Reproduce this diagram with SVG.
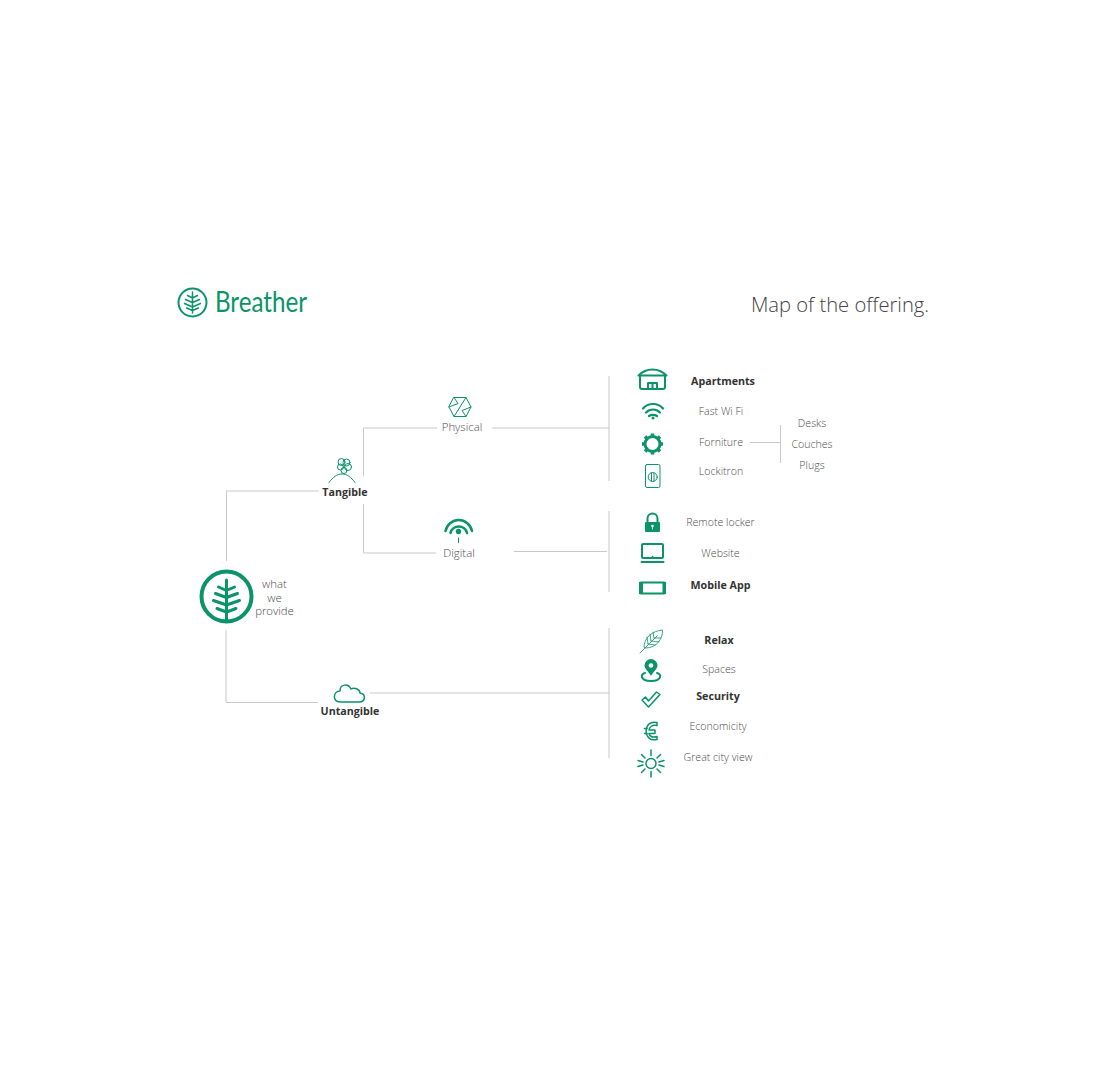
<svg xmlns="http://www.w3.org/2000/svg" width="1106" height="1092" viewBox="0 0 1106 1092">
<style>
text{font-family:"Open Sans","Noto Sans","Liberation Sans",sans-serif;text-anchor:middle;font-size:10.6px;font-weight:300;fill:#4d4d4d}
.b{font-size:10.7px;font-weight:700;fill:#333}
.m{font-size:11.4px}
.c{fill:none;stroke:#c9c9c9;stroke-width:1}
.i{fill:none;stroke:#0a9468;stroke-width:2;stroke-linecap:round;stroke-linejoin:round}
.t{stroke-width:1}
.f{fill:#0a9468;stroke:none}
</style>
<rect width="1106" height="1092" fill="#fff"/>
<g id="connectors">
<path class="c" d="M319 491H226.500V561M226 630V702.500H318M370 693H609M363.500 476V428H437M492 428H609M363.500 504V553H436M514 551.500H607M609 376V481M609 511V592M609 628V758M750 442.500H780M780.500 425V463"/>
</g>
<g id="logo">
<g class="i"><circle cx="192.500" cy="302.500" r="14"/><path style="stroke-width:1.500" d="M192.500 292V313M187.500 295.500l5 2.500 5-2.500M185.500 299.500l7 3 7-3M184.500 303.500l8 3.500 8-3.500M186.500 308l6 2.500 6-2.500"/></g>
<text x="261" y="312" textLength="92" lengthAdjust="spacingAndGlyphs" style="font-size:28px;fill:#0a9468;font-weight:400;font-family:'Lato','Open Sans',sans-serif">Breather</text>
</g>
<g id="title"><text x="840" y="312" style="font-size:20.200px;fill:#444">Map of the offering.</text></g>
<g id="root">
<g class="i" style="stroke-width:4"><circle cx="226.500" cy="596.500" r="25"/><path style="stroke-width:3" d="M226.500 580V621M218.500 587l8 3.500 8-3.500M215.500 593.500l11 4 11-4M213.500 600.500l13 4.500 13-4.500M217 608.500l9.500 3.500 9.500-3.500"/></g>
<text x="274.500" y="587.500" class="m">what</text><text x="274.500" y="601.500" class="m">we</text><text x="274.500" y="614.500" class="m">provide</text>
</g>
<g id="tangible">
<g class="i t"><circle cx="341.500" cy="462" r="3.500"/><circle cx="346.500" cy="462.500" r="3.500"/><circle cx="340.500" cy="467" r="3"/><circle cx="348" cy="467" r="3.500"/><circle cx="344" cy="470.500" r="3"/><path d="M329 482.500C333 477 337 474 342 474S351 477 355 482.500"/></g>
<text x="345" y="496" class="b">Tangible</text>
</g>
<g id="physical">
<g class="i t"><path d="M454 397.500H466L471 407L466 416.500H454L449 407ZM466 397.500L454 416.500M449 407L458 403.500L454 397.500M471 407L462 410.500L466 416.500"/></g>
<text x="462" y="430.500" class="m">Physical</text>
</g>
<g id="digital">
<g class="i" style="stroke-width:2.500"><path d="M445.500 531A13.500 13.500 0 0 1 472 531M450.500 533A8.500 8.500 0 0 1 467 533"/><circle class="f" cx="458.500" cy="531.500" r="2.700"/></g>
<path d="M458.500 537.500V543" stroke="#0a9468"/>
<text x="459" y="556.500" class="m">Digital</text>
</g>
<g id="untangible">
<path class="i t" style="stroke-width:1.500" d="M340 702H359C366 702 366 694 360 693C360 689 354 687 351 689C348 683 340 684 340 691C333 691 332 702 340 702Z"/>
<text x="350" y="715" class="b">Untangible</text>
</g>
<g id="apartments">
<g class="i"><path d="M638.500 375.500C642 372 647 369.500 652.500 369.500S663 372 666.500 375.500Z"/><path d="M640 376V387Q640 389 642 389H663Q665 389 665 387V376M648 389V383H657V389M652.500 383V389"/></g>
<text x="723" y="385" class="b">Apartments</text>
</g>
<g id="wifi">
<g class="i" style="stroke-width:2.200"><path d="M643 408.500C648 402.500 658 402.500 663 408.500M646 412.500C650 408.500 656 408.500 660 412.500M649 416C651 414.500 655 414.500 657 416"/><circle class="f" cx="653" cy="418" r="1.500"/></g>
<text x="721" y="414.500">Fast Wi Fi</text>
</g>
<g id="forniture">
<circle class="i" style="stroke-width:3" cx="652.500" cy="444" r="7.500"/>
<path class="i" style="stroke-width:3.500;stroke-linecap:butt" d="M652.500 433.500V436M652.500 452V454.500M642 444H644.500M660.500 444H663M645 436.500L647 438.500M658 449.500L660 451.500M645 451.500L647 449.500M658 438.500L660 436.500"/>
<text x="721" y="446">Forniture</text>
<text x="812" y="427">Desks</text><text x="812" y="448">Couches</text><text x="812" y="469">Plugs</text>
</g>
<g id="lockitron">
<g class="i t"><rect x="645.500" y="464.500" width="14.500" height="23" rx="1.500"/><circle cx="652.700" cy="477" r="4.500"/><path d="M651.500 473V481M654 473V481"/></g>
<text x="721" y="475">Lockitron</text>
</g>
<g id="remote-locker">
<path class="i" style="stroke-width:2" d="M647.500 522V518.500A5 5 0 0 1 657.500 518.500V522"/>
<rect class="f" x="645" y="522" width="15" height="10" rx="1"/>
<circle cx="652.500" cy="526" r="1.300" fill="#fff"/><path d="M652.500 526.500V529.500" stroke="#fff" stroke-width=".8"/>
<text x="720.500" y="526">Remote locker</text>
</g>
<g id="website">
<g class="i"><rect x="642" y="544" width="21" height="14" rx="1"/><path d="M641.500 562H663.500"/></g>
<path class="f" d="M650 559L652.500 555.500L655 559Z"/>
<text x="720.500" y="556.500">Website</text>
</g>
<g id="mobile-app">
<rect x="640" y="582.500" width="25" height="11" rx="1" fill="none" stroke="#0a9468" stroke-width="2"/>
<path class="f" d="M639 582H643V594H639ZM662.500 582H666V594H662.500Z"/>
<text x="720.500" y="588.500" class="b">Mobile App</text>
</g>
<g id="relax">
<g class="i t" style="stroke-width:.8"><path d="M644 647C644 638 652 631 662.500 630C663 638 657 648 646 648ZM640 653L657 636M648 644L647 637M651 641L650 634M654 638L653 632M648 644L655 645M651 641L659 642M654 638L661 638"/></g>
<text x="719" y="644" class="b">Relax</text>
</g>
<g id="spaces">
<g class="i"><path class="f" d="M651 659A6.500 6.500 0 0 1 657.500 665.500C657.500 669 653 672 651 676C649 672 644.500 669 644.500 665.500A6.500 6.500 0 0 1 651 659Z"/><path d="M645 673C640 674 640 681 651 681S662 674 657 673"/></g>
<circle cx="651" cy="665.500" r="2.300" fill="#fff"/>
<text x="719" y="673">Spaces</text>
</g>
<g id="security">
<path class="i" d="M642 700L648.500 707L660 694.500L656.500 692L648.500 701L645.500 697Z" style="stroke-width:1.500"/>
<text x="718" y="700" class="b">Security</text>
</g>
<g id="economicity">
<g class="i" style="stroke-width:1.500"><path d="M657 722.500C650 721 646.500 725 646 731C646.500 737 650 741 657 739.500V736.500C652 738 649.500 736 649 733.500H655V730H649C649.500 727 652 724.500 657 725.500Z"/><path d="M644.500 728.500H647M644.500 733.500H647"/></g>
<text x="718" y="730">Economicity</text>
</g>
<g id="city-view">
<g class="i" style="stroke-width:1.500"><circle cx="651" cy="763.500" r="5"/><path d="M651 750V755.500M651 771.500V777M641.500 754.500L645 758M657 769L660.500 772.500M641.500 772.500L645 769M657 758L660.500 754.500M638 760.500L643 762M659 765L664 766.500M638 766.500L643 765M659 762L664 760.500"/></g>
<text x="718" y="760.500">Great city view</text>
</g>
</svg>
